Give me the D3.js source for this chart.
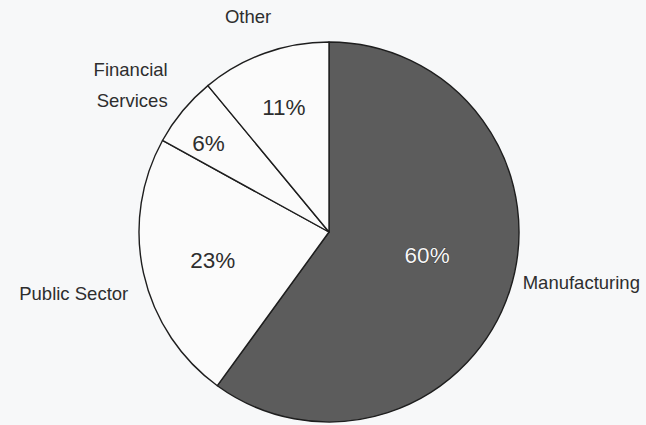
<!DOCTYPE html>
<html>
<head>
<meta charset="utf-8">
<script src="https://cdn.jsdelivr.net/npm/d3@7/dist/d3.min.js"></script>
<style>
  html, body { margin: 0; padding: 0; background: #f7f8f9; }
  svg { display: block; }
  text { font-family: "Liberation Sans", Arial, Helvetica, sans-serif; fill: #2e2e2e; }
</style>
</head>
<body>
<div id="chart"></div>
<script>
// data
var sectors = ["Manufacturing", "Public Sector", "Financial Services", "Other"]
var shares = [60, 23, 6, 11]
var sectorLines = [["Manufacturing"], ["Public Sector"], ["Financial", "Services"], ["Other"]]

var width = 646, height = 425
var cx = 329, cy = 232, radius = 190

var svg = d3.select("#chart").append("svg")
  .attr("width", width)
  .attr("height", height)

var data = sectors.map(function(s, i) { return {sector: s, value: shares[i], lines: sectorLines[i]} })

var pie = d3.pie().sort(null).value(d => d.value)
var arcs = pie(data)
var makeArc = d3.arc().innerRadius(0).outerRadius(radius)

var colour = d3.scaleOrdinal().domain(sectors).range(["#5c5c5c", "#fbfbfb", "#fbfbfb", "#fbfbfb"])

var g = svg.append("g").attr("transform", "translate(" + cx + "," + cy + ")")

g.selectAll("path.slice").data(arcs).enter()
  .append("path").classed("slice", true)
  .attr("d", makeArc)
  .style("fill", d => colour(d.data.sector))
  .style("stroke", "#1e1e1e")
  .style("stroke-width", 1.4)
  .style("stroke-linejoin", "round")

// percentage labels, distance from centre as a fraction of the radius
var pctRadius = [0.53, 0.63, 0.79, 0.70]
var pctNudge = [-5, -1, -3, 0]   // degrees

function polar(angle, r) {
  return [r * Math.sin(angle), -r * Math.cos(angle)]
}

g.selectAll("text.pct").data(arcs).enter()
  .append("text").classed("pct", true)
  .attr("transform", function(d, i) {
    var a = (d.startAngle + d.endAngle) / 2 + pctNudge[i] * Math.PI / 180
    var p = polar(a, radius * pctRadius[i])
    return "translate(" + p[0] + "," + p[1] + ")"
  })
  .attr("text-anchor", "middle")
  .attr("dy", "0.36em")
  .style("font-size", "22.5px")
  .style("fill", (d, i) => i == 0 ? "#f6f6f6" : "#2e2e2e")
  .style("stroke", (d, i) => i == 0 ? "#222" : "none")
  .style("stroke-width", 0.6)
  .style("paint-order", "stroke")
  .text(d => d.data.value + "%")

// sector names outside the pie
var nameLayout = [
  {angle: 104.5, r: 1.053, anchor: "start"},
  {angle: 253, r: 1.105, anchor: "end"},
  {angle: 312.4, r: 1.15, anchor: "end"},
  {angle: 339.4, r: 1.21, anchor: "middle"}
]
var lineGap = 31

var names = g.selectAll("text.name").data(arcs).enter()
  .append("text").classed("name", true)
  .attr("transform", function(d, i) {
    var p = polar(nameLayout[i].angle * Math.PI / 180, radius * nameLayout[i].r)
    return "translate(" + p[0] + "," + p[1] + ")"
  })
  .attr("text-anchor", (d, i) => nameLayout[i].anchor)
  .style("font-size", "18.5px")

names.selectAll("tspan").data(d => d.data.lines.map((t, k, all) => ({t: t, k: k, n: all.length}))).enter()
  .append("tspan")
  .attr("x", 0)
  .attr("y", d => (d.k - (d.n - 1) / 2) * lineGap)
  .attr("dy", "0.36em")
  .text(d => d.t)
</script>
</body>
</html>
